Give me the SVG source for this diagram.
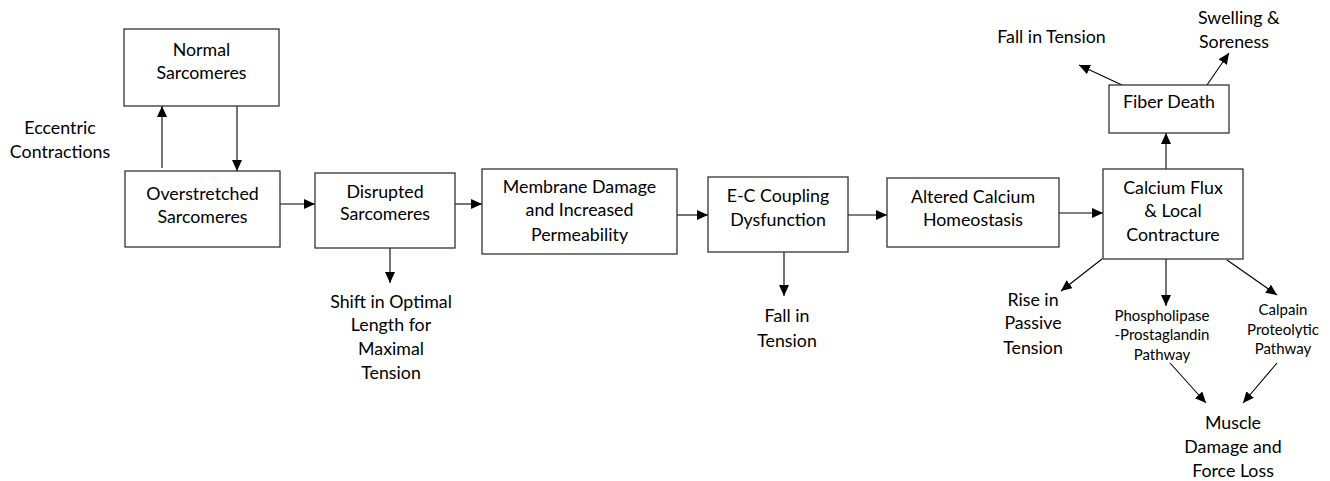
<svg xmlns="http://www.w3.org/2000/svg" width="1330" height="481" viewBox="0 0 1330 481">
<style>
.box{fill:#fff;stroke:#333;stroke-width:1.3}
.t{font-family:Lato,"Open Sans",sans-serif;font-size:17.8px;fill:#000;text-anchor:middle}
.s{font-family:Lato,"Open Sans",sans-serif;font-size:15px;fill:#000;text-anchor:middle}
.c{stroke:#000;stroke-width:1.1;fill:none;marker-end:url(#ah)}
</style>
<defs>
<marker id="ah" markerUnits="userSpaceOnUse" markerWidth="11" markerHeight="10" refX="11" refY="5" orient="auto">
<path d="M0,0 L11,5 L0,10 z" fill="#000"/>
</marker>
</defs>
<rect width="1330" height="481" fill="#fff"/>
<g id="connectors">
<line class="c" x1="162" y1="168" x2="162" y2="106"/>
<line class="c" x1="237" y1="106" x2="237" y2="171"/>
<line class="c" x1="280" y1="204" x2="315" y2="204"/>
<line class="c" x1="390" y1="248" x2="390" y2="283"/>
<line class="c" x1="455" y1="204" x2="482" y2="204"/>
<line class="c" x1="677" y1="215" x2="708" y2="215"/>
<line class="c" x1="784" y1="252" x2="784" y2="296"/>
<line class="c" x1="848" y1="215" x2="887" y2="215"/>
<line class="c" x1="1057" y1="213" x2="1103" y2="213"/>
<line class="c" x1="1166" y1="169" x2="1166" y2="133"/>
<line class="c" x1="1122" y1="85" x2="1079" y2="65"/>
<line class="c" x1="1207" y1="85" x2="1229" y2="53"/>
<line class="c" x1="1102" y1="259" x2="1061" y2="291"/>
<line class="c" x1="1166" y1="259" x2="1166" y2="306"/>
<line class="c" x1="1227" y1="260" x2="1277" y2="295"/>
<line class="c" x1="1170" y1="363" x2="1206" y2="403"/>
<line class="c" x1="1277" y1="363" x2="1243" y2="403"/>
</g>
<g id="normal">
<rect class="box" x="124" y="29" width="155" height="77"/>
<text class="t" x="201.5" y="56">Normal</text>
<text class="t" x="201.5" y="79">Sarcomeres</text>
</g>
<g id="eccentric">
<text class="t" x="60" y="134">Eccentric</text>
<text class="t" x="60" y="158">Contractions</text>
</g>
<g id="overstretched">
<rect class="box" x="125" y="171" width="155" height="76"/>
<text class="t" x="202.5" y="200">Overstretched</text>
<text class="t" x="202.5" y="223">Sarcomeres</text>
</g>
<g id="disrupted">
<rect class="box" x="315" y="173" width="140" height="75"/>
<text class="t" x="385" y="198">Disrupted</text>
<text class="t" x="385" y="220">Sarcomeres</text>
</g>
<g id="shift">
<text class="t" x="391" y="308">Shift in Optimal</text>
<text class="t" x="391" y="331">Length for</text>
<text class="t" x="391" y="355">Maximal</text>
<text class="t" x="391" y="379">Tension</text>
</g>
<g id="membrane">
<rect class="box" x="482" y="169" width="195" height="85"/>
<text class="t" x="579.5" y="193">Membrane Damage</text>
<text class="t" x="579.5" y="216">and Increased</text>
<text class="t" x="579.5" y="241">Permeability</text>
</g>
<g id="ec">
<rect class="box" x="708" y="177" width="140" height="75"/>
<text class="t" x="778" y="202">E-C Coupling</text>
<text class="t" x="778" y="226">Dysfunction</text>
</g>
<g id="fall1">
<text class="t" x="787" y="322">Fall in</text>
<text class="t" x="787" y="347">Tension</text>
</g>
<g id="altered">
<rect class="box" x="887" y="178" width="172" height="69"/>
<text class="t" x="973" y="203">Altered Calcium</text>
<text class="t" x="973" y="226">Homeostasis</text>
</g>
<g id="calcium">
<rect class="box" x="1103" y="169" width="140" height="90"/>
<text class="t" x="1173" y="194">Calcium Flux</text>
<text class="t" x="1173" y="217">&amp; Local</text>
<text class="t" x="1173" y="241">Contracture</text>
</g>
<g id="fiber">
<rect class="box" x="1109" y="85" width="120" height="48"/>
<text class="t" x="1169" y="108">Fiber Death</text>
</g>
<g id="fall2">
<text class="t" x="1051.5" y="43">Fall in Tension</text>
</g>
<g id="swelling">
<text class="t" x="1198" y="24" style="text-anchor:start">Swelling &amp;</text>
<text class="t" x="1199" y="48" style="text-anchor:start">Soreness</text>
</g>
<g id="rise">
<text class="t" x="1033" y="306">Rise in</text>
<text class="t" x="1033" y="329">Passive</text>
<text class="t" x="1033" y="354">Tension</text>
</g>
<g id="phospho">
<text class="s" x="1162" y="321">Phospholipase</text>
<text class="s" x="1162" y="340">-Prostaglandin</text>
<text class="s" x="1162" y="360">Pathway</text>
</g>
<g id="calpain">
<text class="s" x="1283" y="315">Calpain</text>
<text class="s" x="1283" y="335">Proteolytic</text>
<text class="s" x="1283" y="354">Pathway</text>
</g>
<g id="muscle">
<text class="t" x="1233" y="429">Muscle</text>
<text class="t" x="1233" y="453">Damage and</text>
<text class="t" x="1233" y="477">Force Loss</text>
</g>
</svg>
